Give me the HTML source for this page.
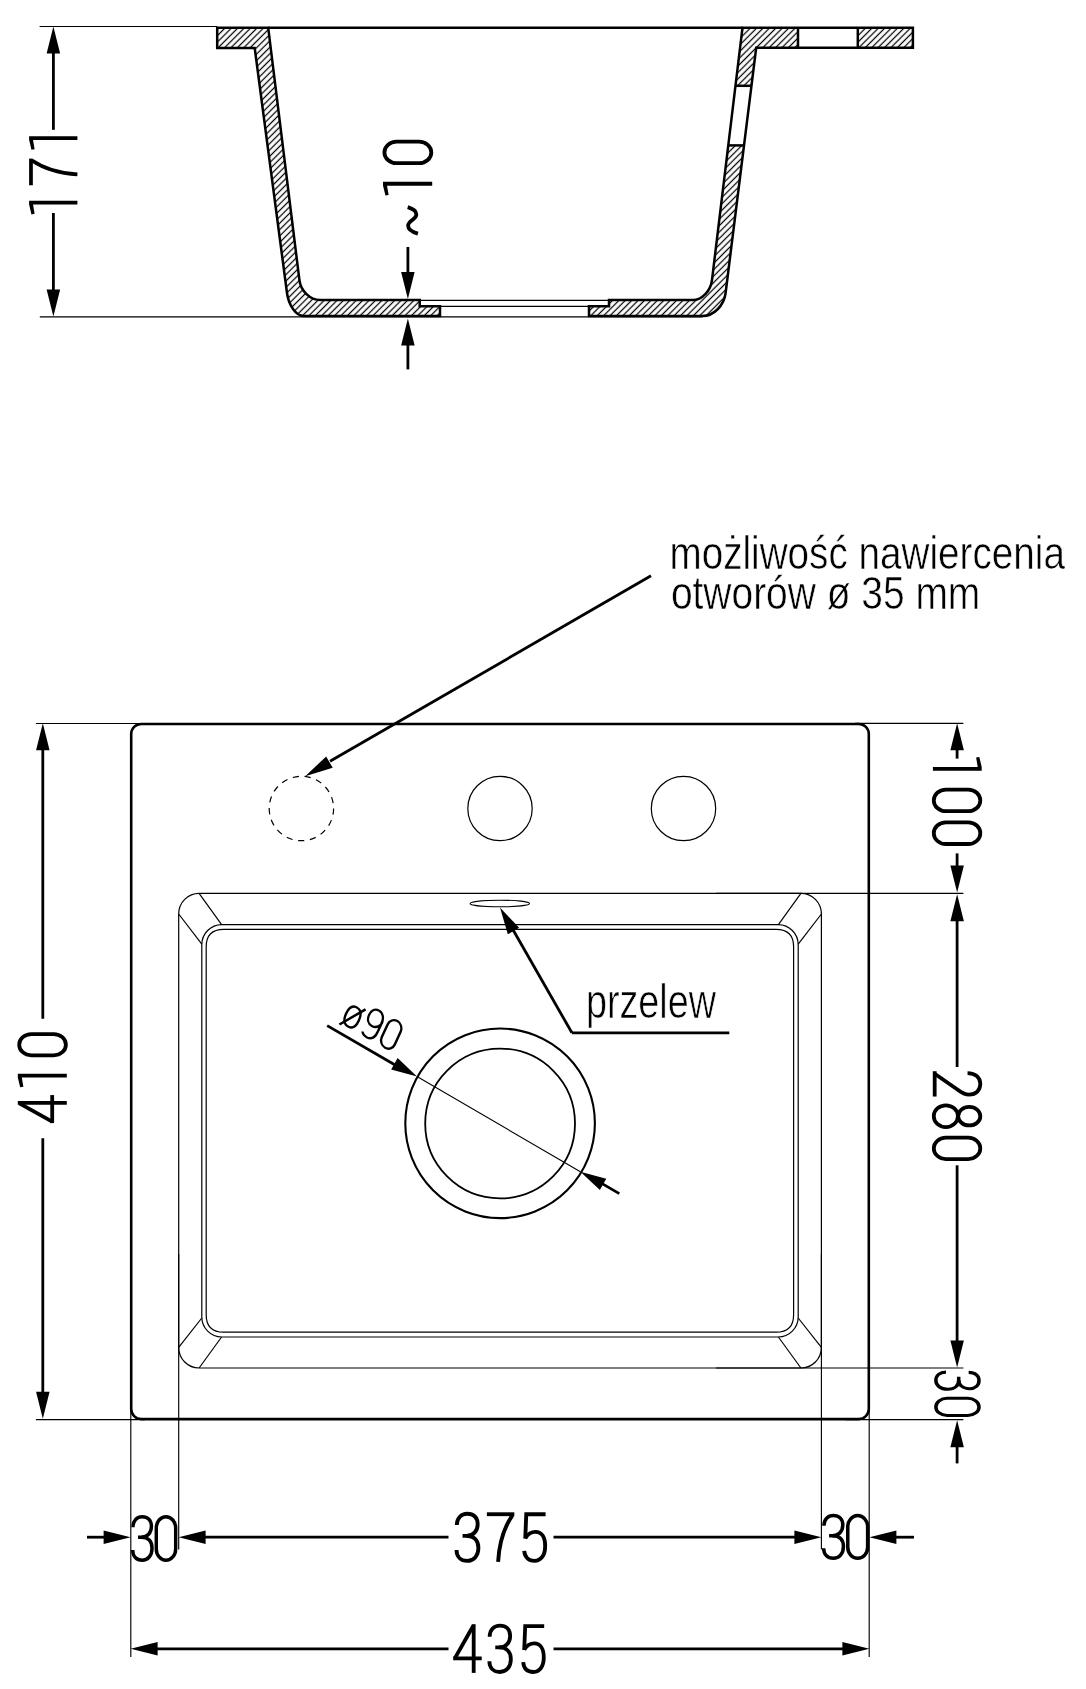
<!DOCTYPE html>
<html><head><meta charset="utf-8"><title>Sink drawing</title>
<style>
html,body{margin:0;padding:0;background:#fff;}
body{width:1086px;height:1689px;overflow:hidden;}
svg{display:block;}
text{font-family:"Liberation Sans",sans-serif;fill:#000;}
svg{will-change:transform;}
</style></head>
<body>
<svg width="1086" height="1689" viewBox="0 0 1086 1689">
<defs>
<pattern id="hatch" patternUnits="userSpaceOnUse" width="4.53" height="4.53" patternTransform="rotate(45)">
<line x1="2.26" y1="-1" x2="2.26" y2="6" stroke="#000" stroke-width="1.25"/>
</pattern>
</defs>
<rect width="1086" height="1689" fill="#fff"/>
<path d="M217.2,27.7 L268.2,27.7 L299.4,280 C300.77,291.06 310.09,300.10 320.10,300.10 L419.7,300.1 L419.7,306.3 L440.0,306.3 L440.0,316.0 L303.6,316.0 C296.18,316.00 288.71,305.65 287.00,293.00 L254.7,48.1 L217.2,48.1 Z" fill="url(#hatch)"/>
<path d="M742.5,27.7 L912.9,27.7 L912.9,47.8 L756.2,47.8 L725.6,293 C724.00,305.65 713.66,316.00 702.60,316.00 L589.0,316.0 L589.0,306.3 L609,306.3 L609,300.1 L692.7,300.1 C702.00,300.10 710.68,291.06 712.00,280.00 L742.5,27.7 Z" fill="url(#hatch)"/>
<rect x="798" y="27.7" width="59.8" height="20.4" fill="#fff"/>
<path d="M735.49,85.8 L751.45,85.8 L744.00,145.4 L728.31,145.4 Z" fill="#fff"/>
<path d="M217.2,27.7 L268.2,27.7 L299.4,280 C300.77,291.06 310.09,300.10 320.10,300.10 L419.7,300.1 L419.7,306.3 L440.0,306.3 L440.0,316.0 L303.6,316.0 C296.18,316.00 288.71,305.65 287.00,293.00 L254.7,48.1 L217.2,48.1 Z" fill="none" stroke="#000" stroke-width="2.5" stroke-linejoin="miter"/>
<path d="M742.5,27.7 L912.9,27.7 L912.9,47.8 L756.2,47.8 L725.6,293 C724.00,305.65 713.66,316.00 702.60,316.00 L589.0,316.0 L589.0,306.3 L609,306.3 L609,300.1 L692.7,300.1 C702.00,300.10 710.68,291.06 712.00,280.00 L742.5,27.7 Z" fill="none" stroke="#000" stroke-width="2.5" stroke-linejoin="miter"/>
<line x1="798.00" y1="27.70" x2="798.00" y2="47.80" stroke="#000" stroke-width="2.5"/>
<line x1="857.80" y1="27.70" x2="857.80" y2="47.80" stroke="#000" stroke-width="2.5"/>
<line x1="735.49" y1="85.80" x2="751.45" y2="85.80" stroke="#000" stroke-width="2.5"/>
<line x1="728.31" y1="145.40" x2="744.00" y2="145.40" stroke="#000" stroke-width="2.5"/>
<line x1="268.20" y1="27.70" x2="742.50" y2="27.70" stroke="#000" stroke-width="2.5"/>
<line x1="39.60" y1="26.50" x2="217.20" y2="26.50" stroke="#000" stroke-width="1.15"/>
<line x1="39.80" y1="316.80" x2="702.60" y2="316.80" stroke="#000" stroke-width="1.15"/>
<line x1="419.70" y1="300.40" x2="609.00" y2="300.40" stroke="#000" stroke-width="1.2"/>
<line x1="440.00" y1="306.30" x2="589.00" y2="306.30" stroke="#000" stroke-width="1.2"/>
<path d="M53.40,26.50 L60.15,53.50 L46.65,53.50 Z" fill="#000"/>
<line x1="53.40" y1="40.00" x2="53.40" y2="129.80" stroke="#000" stroke-width="2.8"/>
<path d="M53.40,316.60 L46.65,289.60 L60.15,289.60 Z" fill="#000"/>
<line x1="53.40" y1="213.00" x2="53.40" y2="300.00" stroke="#000" stroke-width="2.8"/>
<g transform="translate(29.1,214.4) rotate(-90) translate(0.00,0.00) scale(0.9911,0.9859)"><path transform="translate(29.40,0)" d="M0,1.9 L26.9,1.9" fill="none" stroke="#000" stroke-width="3.8"/><path transform="translate(29.40,0)" d="M25.0,3.0 C16.8,15.0 12.0,31.0 11.0,49.0" fill="none" stroke="#000" stroke-width="3.8"/><path transform="translate(0.00,0)" d="M0,2.4 L10.0,0 L13.7,0 L13.7,49.0 L9.9,49.0 L9.9,4.0 L0.6,5.6 Z" fill="#000"/><path transform="translate(65.20,0)" d="M0,2.4 L10.0,0 L13.7,0 L13.7,49.0 L9.9,49.0 L9.9,4.0 L0.6,5.6 Z" fill="#000"/></g>
<path d="M407.90,299.00 L401.15,272.00 L414.65,272.00 Z" fill="#000"/>
<line x1="407.90" y1="247.00" x2="407.90" y2="285.00" stroke="#000" stroke-width="2.8"/>
<path d="M407.90,318.40 L414.65,345.40 L401.15,345.40 Z" fill="#000"/>
<line x1="407.90" y1="330.00" x2="407.90" y2="369.40" stroke="#000" stroke-width="2.8"/>
<g transform="translate(383.0,235.6) rotate(-90) translate(0.00,0.00) scale(0.9990,1.0040)"><path transform="translate(0.00,0)" d="M1.9,34.8 C3.6,28.4 6.4,25.0 10.0,25.0 C15.0,25.0 16.4,33.2 21.2,33.2 C24.6,33.2 26.8,30.4 28.5,24.6" fill="none" stroke="#000" stroke-width="3.8"/><path transform="translate(70.60,0)" d="M12.65,1.4 C18.58,1.4 23.4,6.82 23.4,13.5 L23.4,36 C23.4,42.68 18.58,48.1 12.65,48.1 C6.72,48.1 1.9,42.68 1.9,36 L1.9,13.5 C1.9,6.82 6.72,1.4 12.65,1.4 Z" fill="none" stroke="#000" stroke-width="3.8"/><path transform="translate(40.10,0)" d="M0,2.4 L10.0,0 L13.7,0 L13.7,49.0 L9.9,49.0 L9.9,4.0 L0.6,5.6 Z" fill="#000"/></g>
<rect x="131.2" y="724.0" width="737.6" height="695.1" rx="10" ry="10" fill="none" stroke="#000" stroke-width="2.6"/>
<rect x="178.7" y="893.4" width="642.7" height="474.6" rx="20.5" ry="20.5" fill="none" stroke="#000" stroke-width="1.2"/>
<rect x="201.8" y="924.6" width="596.4" height="412.4" rx="20" ry="20" fill="none" stroke="#000" stroke-width="1.2"/>
<path d="M223.7,929.3 L776.1,929.3 C787.475,929.3 793.6,935.425 793.6,946.8 L793.6,1314.7 C793.6,1326.075 787.475,1332.2 776.1,1332.2 L223.7,1332.2 C212.325,1332.2 206.2,1326.075 206.2,1314.7 L206.2,946.8 C206.2,935.425 212.325,929.3 223.7,929.3 Z" fill="none" stroke="#000" stroke-width="1.2"/>
<line x1="199.10" y1="893.40" x2="221.60" y2="924.60" stroke="#000" stroke-width="1.2"/>
<line x1="178.70" y1="914.00" x2="201.80" y2="944.20" stroke="#000" stroke-width="1.2"/>
<line x1="800.90" y1="893.40" x2="778.40" y2="924.60" stroke="#000" stroke-width="1.2"/>
<line x1="821.40" y1="914.00" x2="798.20" y2="944.20" stroke="#000" stroke-width="1.2"/>
<line x1="178.70" y1="1347.40" x2="201.80" y2="1318.00" stroke="#000" stroke-width="1.2"/>
<line x1="199.10" y1="1368.00" x2="221.60" y2="1337.00" stroke="#000" stroke-width="1.2"/>
<line x1="821.40" y1="1347.40" x2="798.20" y2="1318.00" stroke="#000" stroke-width="1.2"/>
<line x1="800.90" y1="1368.00" x2="778.40" y2="1337.00" stroke="#000" stroke-width="1.2"/>
<circle cx="301.4" cy="808.5" r="32.2" fill="none" stroke="#000" stroke-width="1.2" stroke-dasharray="6.2 5.7"/>
<circle cx="500.0" cy="808.5" r="32.2" fill="none" stroke="#000" stroke-width="1.2"/>
<circle cx="683.5" cy="808.5" r="32.2" fill="none" stroke="#000" stroke-width="1.2"/>
<ellipse cx="499.8" cy="903.5" rx="29.7" ry="3.3" fill="none" stroke="#000" stroke-width="1.1"/>
<circle cx="500.1" cy="1123.3" r="94.8" fill="none" stroke="#000" stroke-width="2.1"/>
<circle cx="500.1" cy="1123.5" r="74.9" fill="none" stroke="#000" stroke-width="1.8"/>
<line x1="417.00" y1="1076.60" x2="580.40" y2="1171.70" stroke="#000" stroke-width="1.1"/>
<line x1="327.20" y1="1025.60" x2="396.00" y2="1065.50" stroke="#000" stroke-width="2.8"/>
<path d="M417.00,1076.60 L391.18,1069.41 L397.60,1058.11 Z" fill="#000"/>
<line x1="619.30" y1="1193.60" x2="600.00" y2="1182.40" stroke="#000" stroke-width="2.8"/>
<path d="M580.40,1171.70 L606.25,1178.79 L599.87,1190.12 Z" fill="#000"/>
<g transform="translate(327.2,1025.6) rotate(29.8) translate(0,-8.65) skewX(5) translate(9.60,-31.00) scale(0.6962,0.6263)"><path transform="translate(0.00,0)" d="M13.0,14.6 C19.4,14.6 23.4,19.8 23.4,31.3 C23.4,42.8 19.4,48.1 13.0,48.1 C6.6,48.1 2.6,42.8 2.6,31.3 C2.6,19.8 6.6,14.6 13.0,14.6 Z" fill="none" stroke="#000" stroke-width="3.5"/><path transform="translate(0.00,0)" d="M0.4,52.0 L25.6,10.4" fill="none" stroke="#000" stroke-width="3.5"/><path transform="translate(31.60,0)" d="M23.4,17.0 C23.4,8.0 19.0,1.4 12.6,1.4 C6.2,1.4 1.9,6.8 1.9,15.0 C1.9,23.2 6.0,28.4 12.0,28.4 C17.6,28.4 21.4,24.6 23.4,19.5" fill="none" stroke="#000" stroke-width="3.5"/><path transform="translate(31.60,0)" d="M23.4,14.0 L23.4,32.0 C23.4,42.4 19.0,48.1 12.0,48.1 C8.0,48.1 5.0,46.6 3.2,43.6" fill="none" stroke="#000" stroke-width="3.5"/><path transform="translate(61.60,0)" d="M12.65,1.4 C18.58,1.4 23.4,6.82 23.4,13.5 L23.4,36 C23.4,42.68 18.58,48.1 12.65,48.1 C6.72,48.1 1.9,42.68 1.9,36 L1.9,13.5 C1.9,6.82 6.72,1.4 12.65,1.4 Z" fill="none" stroke="#000" stroke-width="3.5"/></g>
<line x1="571.90" y1="1032.80" x2="729.30" y2="1032.80" stroke="#000" stroke-width="2.8"/>
<line x1="571.90" y1="1032.80" x2="512.00" y2="928.00" stroke="#000" stroke-width="2.8"/>
<path d="M500.00,907.60 L519.08,927.78 L507.81,934.25 Z" fill="#000"/>
<text transform="scale(0.7941,1)" x="737.91" y="1018.30" font-size="47.50" stroke="#fff" stroke-width="0.7">przelew</text>
<line x1="651.00" y1="575.80" x2="330.00" y2="761.30" stroke="#000" stroke-width="2.8"/>
<path d="M305.20,776.20 L326.17,756.54 L332.69,767.78 Z" fill="#000"/>
<text transform="scale(0.8230,1)" x="813.42" y="569.50" font-size="47.00" stroke="#fff" stroke-width="0.6">możliwość nawiercenia</text>
<text transform="scale(0.8377,1)" x="800.88" y="608.60" font-size="46.50" stroke="#fff" stroke-width="0.6">otworów ø 35 mm</text>
<line x1="35.90" y1="723.45" x2="145.00" y2="723.45" stroke="#000" stroke-width="1.15"/>
<line x1="35.90" y1="1419.60" x2="145.00" y2="1419.60" stroke="#000" stroke-width="1.15"/>
<path d="M42.80,723.30 L49.55,750.30 L36.05,750.30 Z" fill="#000"/>
<line x1="42.80" y1="740.00" x2="42.80" y2="1018.70" stroke="#000" stroke-width="2.8"/>
<path d="M42.80,1418.80 L36.05,1391.80 L49.55,1391.80 Z" fill="#000"/>
<line x1="42.80" y1="1138.30" x2="42.80" y2="1400.00" stroke="#000" stroke-width="2.8"/>
<g transform="translate(17.8,1123.1) rotate(-90) translate(0.00,0.00) scale(0.9870,1.0000)"><path transform="translate(0.00,0)" d="M20.4,0 L20.4,49.0" fill="none" stroke="#000" stroke-width="3.8"/><path transform="translate(0.00,0)" d="M0,34.4 L28.4,34.4" fill="none" stroke="#000" stroke-width="3.8"/><path transform="translate(0.00,0)" d="M20.0,1.6 L1.6,34.4" fill="none" stroke="#000" stroke-width="3.8"/><path transform="translate(66.80,0)" d="M12.65,1.4 C18.58,1.4 23.4,6.82 23.4,13.5 L23.4,36 C23.4,42.68 18.58,48.1 12.65,48.1 C6.72,48.1 1.9,42.68 1.9,36 L1.9,13.5 C1.9,6.82 6.72,1.4 12.65,1.4 Z" fill="none" stroke="#000" stroke-width="3.8"/><path transform="translate(36.30,0)" d="M0,2.4 L10.0,0 L13.7,0 L13.7,49.0 L9.9,49.0 L9.9,4.0 L0.6,5.6 Z" fill="#000"/></g>
<line x1="855.00" y1="723.40" x2="963.40" y2="723.40" stroke="#000" stroke-width="1.15"/>
<line x1="716.00" y1="893.40" x2="963.40" y2="893.40" stroke="#000" stroke-width="1.15"/>
<line x1="716.00" y1="1368.00" x2="963.40" y2="1368.00" stroke="#000" stroke-width="1.15"/>
<line x1="846.00" y1="1419.60" x2="963.40" y2="1419.60" stroke="#000" stroke-width="1.15"/>
<path d="M957.10,723.30 L963.85,750.30 L950.35,750.30 Z" fill="#000"/>
<line x1="957.10" y1="740.00" x2="957.10" y2="758.60" stroke="#000" stroke-width="2.8"/>
<path d="M957.10,892.60 L950.35,865.60 L963.85,865.60 Z" fill="#000"/>
<line x1="957.10" y1="853.40" x2="957.10" y2="870.00" stroke="#000" stroke-width="2.8"/>
<g transform="translate(981.7,757.0) rotate(90) translate(0.00,0.00) scale(1.0057,0.9960)"><path transform="translate(30.50,0)" d="M12.65,1.4 C18.58,1.4 23.4,6.82 23.4,13.5 L23.4,36 C23.4,42.68 18.58,48.1 12.65,48.1 C6.72,48.1 1.9,42.68 1.9,36 L1.9,13.5 C1.9,6.82 6.72,1.4 12.65,1.4 Z" fill="none" stroke="#000" stroke-width="3.8"/><path transform="translate(63.10,0)" d="M12.65,1.4 C18.58,1.4 23.4,6.82 23.4,13.5 L23.4,36 C23.4,42.68 18.58,48.1 12.65,48.1 C6.72,48.1 1.9,42.68 1.9,36 L1.9,13.5 C1.9,6.82 6.72,1.4 12.65,1.4 Z" fill="none" stroke="#000" stroke-width="3.8"/><path transform="translate(0.00,0)" d="M0,2.4 L10.0,0 L13.7,0 L13.7,49.0 L9.9,49.0 L9.9,4.0 L0.6,5.6 Z" fill="#000"/></g>
<path d="M957.10,894.20 L963.85,921.20 L950.35,921.20 Z" fill="#000"/>
<line x1="957.10" y1="910.00" x2="957.10" y2="1067.00" stroke="#000" stroke-width="2.8"/>
<path d="M957.10,1367.40 L950.35,1340.40 L963.85,1340.40 Z" fill="#000"/>
<line x1="957.10" y1="1165.30" x2="957.10" y2="1350.00" stroke="#000" stroke-width="2.8"/>
<g transform="translate(981.7,1071.2) rotate(90) translate(0.00,0.00) scale(0.9901,0.9960)"><path transform="translate(0.00,0)" d="M1.9,14.2 C1.9,6.2 6.6,1.4 12.8,1.4 C19.2,1.4 23.6,5.6 23.6,12.6 C23.6,17.2 21.6,20.4 18.4,24.4 L2.6,47.2" fill="none" stroke="#000" stroke-width="3.8"/><path transform="translate(0.00,0)" d="M0,47.2 L25.6,47.2" fill="none" stroke="#000" stroke-width="3.8"/><path transform="translate(32.50,0)" d="M12.9,1.4000000000000004 C18.09,1.4000000000000004 22.3,6.37 22.3,12.5 C22.3,18.63 18.09,23.6 12.9,23.6 C7.71,23.6 3.5,18.63 3.5,12.5 C3.5,6.37 7.71,1.4000000000000004 12.9,1.4000000000000004 Z" fill="none" stroke="#000" stroke-width="3.8"/><path transform="translate(32.50,0)" d="M12.9,23.9 C18.98,23.9 23.9,29.32 23.9,36.0 C23.9,42.68 18.98,48.1 12.9,48.1 C6.82,48.1 1.9000000000000004,42.68 1.9000000000000004,36.0 C1.9000000000000004,29.32 6.82,23.9 12.9,23.9 Z" fill="none" stroke="#000" stroke-width="3.8"/><path transform="translate(65.30,0)" d="M12.65,1.4 C18.58,1.4 23.4,6.82 23.4,13.5 L23.4,36 C23.4,42.68 18.58,48.1 12.65,48.1 C6.72,48.1 1.9,42.68 1.9,36 L1.9,13.5 C1.9,6.82 6.72,1.4 12.65,1.4 Z" fill="none" stroke="#000" stroke-width="3.8"/></g>
<path d="M957.10,1420.20 L963.85,1447.20 L950.35,1447.20 Z" fill="#000"/>
<line x1="957.10" y1="1435.00" x2="957.10" y2="1463.40" stroke="#000" stroke-width="2.8"/>
<g transform="translate(980.3,1370.6) rotate(90) translate(0.00,0.00) scale(0.8000,0.9232)"><path transform="translate(0.00,0)" d="M2.2,12.6 C2.2,5.6 6.6,1.4 12.4,1.4 C18.6,1.4 22.6,5.2 22.6,11.8 C22.6,18.6 18.2,23.4 11.6,23.4 L7.8,23.4" fill="none" stroke="#000" stroke-width="3.8"/><path transform="translate(0.00,0)" d="M11.6,23.4 C19.0,23.4 23.3,27.6 23.3,35.2 C23.3,43.2 18.6,48.1 12.4,48.1 C6.0,48.1 1.9,43.8 1.9,37.2" fill="none" stroke="#000" stroke-width="3.8"/><path transform="translate(32.70,0)" d="M12.65,1.4 C18.58,1.4 23.4,6.82 23.4,13.5 L23.4,36 C23.4,42.68 18.58,48.1 12.65,48.1 C6.72,48.1 1.9,42.68 1.9,36 L1.9,13.5 C1.9,6.82 6.72,1.4 12.65,1.4 Z" fill="none" stroke="#000" stroke-width="3.8"/></g>
<line x1="130.80" y1="1402.00" x2="130.80" y2="1657.00" stroke="#000" stroke-width="1.15"/>
<line x1="178.70" y1="1254.00" x2="178.70" y2="1549.50" stroke="#000" stroke-width="1.15"/>
<line x1="821.40" y1="1254.00" x2="821.40" y2="1549.50" stroke="#000" stroke-width="1.15"/>
<line x1="869.20" y1="1402.00" x2="869.20" y2="1657.00" stroke="#000" stroke-width="1.15"/>
<line x1="87.00" y1="1537.20" x2="110.00" y2="1537.20" stroke="#000" stroke-width="2.8"/>
<path d="M130.60,1537.20 L103.60,1543.95 L103.60,1530.45 Z" fill="#000"/>
<path d="M178.60,1537.20 L205.60,1530.45 L205.60,1543.95 Z" fill="#000"/>
<line x1="195.00" y1="1537.20" x2="448.50" y2="1537.20" stroke="#000" stroke-width="2.8"/>
<line x1="553.50" y1="1537.20" x2="805.00" y2="1537.20" stroke="#000" stroke-width="2.8"/>
<path d="M821.40,1537.20 L794.40,1543.95 L794.40,1530.45 Z" fill="#000"/>
<path d="M869.40,1537.20 L896.40,1530.45 L896.40,1543.95 Z" fill="#000"/>
<line x1="885.00" y1="1537.20" x2="914.00" y2="1537.20" stroke="#000" stroke-width="2.8"/>
<g transform=" translate(131.00,1515.40) scale(0.9027,0.9313)"><path transform="translate(0.00,0)" d="M2.2,12.6 C2.2,5.6 6.6,1.4 12.4,1.4 C18.6,1.4 22.6,5.2 22.6,11.8 C22.6,18.6 18.2,23.4 11.6,23.4 L7.8,23.4" fill="none" stroke="#000" stroke-width="3.8"/><path transform="translate(0.00,0)" d="M11.6,23.4 C19.0,23.4 23.3,27.6 23.3,35.2 C23.3,43.2 18.6,48.1 12.4,48.1 C6.0,48.1 1.9,43.8 1.9,37.2" fill="none" stroke="#000" stroke-width="3.8"/><path transform="translate(26.10,0)" d="M12.65,1.4 C18.58,1.4 23.4,6.82 23.4,13.5 L23.4,36 C23.4,42.68 18.58,48.1 12.65,48.1 C6.72,48.1 1.9,42.68 1.9,36 L1.9,13.5 C1.9,6.82 6.72,1.4 12.65,1.4 Z" fill="none" stroke="#000" stroke-width="3.8"/></g>
<g transform=" translate(454.60,1512.30) scale(1.0210,1.0101)"><path transform="translate(0.00,0)" d="M2.2,12.6 C2.2,5.6 6.6,1.4 12.4,1.4 C18.6,1.4 22.6,5.2 22.6,11.8 C22.6,18.6 18.2,23.4 11.6,23.4 L7.8,23.4" fill="none" stroke="#000" stroke-width="3.8"/><path transform="translate(0.00,0)" d="M11.6,23.4 C19.0,23.4 23.3,27.6 23.3,35.2 C23.3,43.2 18.6,48.1 12.4,48.1 C6.0,48.1 1.9,43.8 1.9,37.2" fill="none" stroke="#000" stroke-width="3.8"/><path transform="translate(31.60,0)" d="M0,1.9 L26.9,1.9" fill="none" stroke="#000" stroke-width="3.8"/><path transform="translate(31.60,0)" d="M25.0,3.0 C16.8,15.0 12.0,31.0 11.0,49.0" fill="none" stroke="#000" stroke-width="3.8"/><path transform="translate(66.30,0)" d="M22.8,1.9 L3.9,1.9 L2.9,26.0" fill="none" stroke="#000" stroke-width="3.8"/><path transform="translate(66.30,0)" d="M2.9,25.6 C5.4,21.6 8.6,19.4 12.9,19.4 C19.4,19.4 22.4,25.2 22.4,33.6 C22.4,42.6 18.2,48.1 12.0,48.1 C6.0,48.1 2.4,44.4 1.9,38.2" fill="none" stroke="#000" stroke-width="3.8"/></g>
<g transform=" translate(821.90,1514.30) scale(0.9241,0.9152)"><path transform="translate(0.00,0)" d="M2.2,12.6 C2.2,5.6 6.6,1.4 12.4,1.4 C18.6,1.4 22.6,5.2 22.6,11.8 C22.6,18.6 18.2,23.4 11.6,23.4 L7.8,23.4" fill="none" stroke="#000" stroke-width="3.8"/><path transform="translate(0.00,0)" d="M11.6,23.4 C19.0,23.4 23.3,27.6 23.3,35.2 C23.3,43.2 18.6,48.1 12.4,48.1 C6.0,48.1 1.9,43.8 1.9,37.2" fill="none" stroke="#000" stroke-width="3.8"/><path transform="translate(26.10,0)" d="M12.65,1.4 C18.58,1.4 23.4,6.82 23.4,13.5 L23.4,36 C23.4,42.68 18.58,48.1 12.65,48.1 C6.72,48.1 1.9,42.68 1.9,36 L1.9,13.5 C1.9,6.82 6.72,1.4 12.65,1.4 Z" fill="none" stroke="#000" stroke-width="3.8"/></g>
<path d="M130.60,1648.80 L157.60,1642.05 L157.60,1655.55 Z" fill="#000"/>
<line x1="145.00" y1="1648.80" x2="448.50" y2="1648.80" stroke="#000" stroke-width="2.8"/>
<line x1="553.50" y1="1648.80" x2="855.00" y2="1648.80" stroke="#000" stroke-width="2.8"/>
<path d="M869.40,1648.80 L842.40,1655.55 L842.40,1642.05 Z" fill="#000"/>
<g transform=" translate(453.20,1624.20) scale(1.0043,0.9939)"><path transform="translate(0.00,0)" d="M20.4,0 L20.4,49.0" fill="none" stroke="#000" stroke-width="3.8"/><path transform="translate(0.00,0)" d="M0,34.4 L28.4,34.4" fill="none" stroke="#000" stroke-width="3.8"/><path transform="translate(0.00,0)" d="M20.0,1.6 L1.6,34.4" fill="none" stroke="#000" stroke-width="3.8"/><path transform="translate(34.10,0)" d="M2.2,12.6 C2.2,5.6 6.6,1.4 12.4,1.4 C18.6,1.4 22.6,5.2 22.6,11.8 C22.6,18.6 18.2,23.4 11.6,23.4 L7.8,23.4" fill="none" stroke="#000" stroke-width="3.8"/><path transform="translate(34.10,0)" d="M11.6,23.4 C19.0,23.4 23.3,27.6 23.3,35.2 C23.3,43.2 18.6,48.1 12.4,48.1 C6.0,48.1 1.9,43.8 1.9,37.2" fill="none" stroke="#000" stroke-width="3.8"/><path transform="translate(67.80,0)" d="M22.8,1.9 L3.9,1.9 L2.9,26.0" fill="none" stroke="#000" stroke-width="3.8"/><path transform="translate(67.80,0)" d="M2.9,25.6 C5.4,21.6 8.6,19.4 12.9,19.4 C19.4,19.4 22.4,25.2 22.4,33.6 C22.4,42.6 18.2,48.1 12.0,48.1 C6.0,48.1 2.4,44.4 1.9,38.2" fill="none" stroke="#000" stroke-width="3.8"/></g>
</svg>
</body></html>
